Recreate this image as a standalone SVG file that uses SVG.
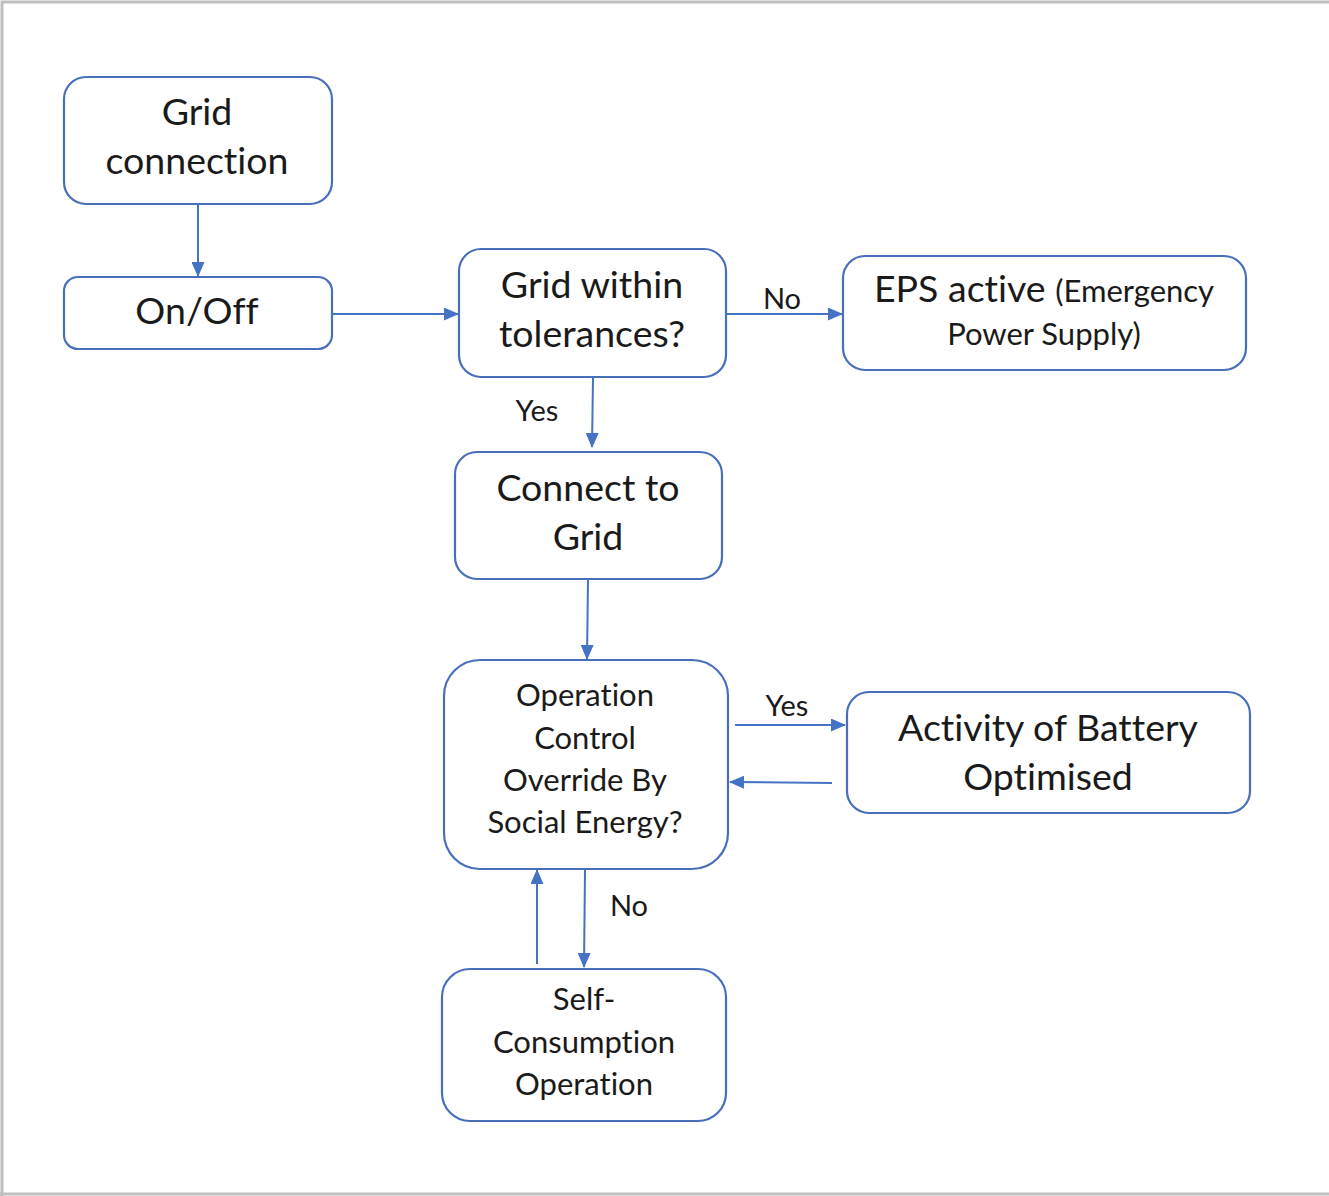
<svg xmlns="http://www.w3.org/2000/svg" width="1329" height="1196" viewBox="0 0 1329 1196">
<defs>
<marker id="ah" markerWidth="15" markerHeight="13" refX="14" refY="6.5" orient="auto" markerUnits="userSpaceOnUse">
<path d="M0,0 L15,6.5 L0,13 Z" fill="#4472C4"/>
</marker>
<style>
.box{fill:#fff;stroke:#4A6FBA;stroke-width:2.2}
.t{font-family:Lato,"Open Sans",sans-serif;fill:#1a1a1a;text-anchor:middle;font-variant-ligatures:none}
.b{font-size:37.5px}
.s{font-size:31px}
.l{font-size:29px}
.c{stroke:#4472C4;stroke-width:2;fill:none;marker-end:url(#ah)}
</style>
</defs>
<rect x="0" y="0" width="1329" height="1196" fill="#fff"/>
<path d="M2,1196 V2 H1329 M0,1194 H1329" stroke="#BFBFBF" stroke-width="3" fill="none"/>
<g id="grid-connection">
<rect class="box" x="64" y="77" width="268" height="127" rx="22"/>
<text class="t b" x="197" y="125">Grid</text>
<text class="t b" x="197" y="174">connection</text>
</g>
<g id="on-off">
<rect class="box" x="64" y="277" width="268" height="72" rx="14"/>
<text class="t b" x="197" y="324">On/Off</text>
</g>
<g id="grid-within">
<rect class="box" x="459" y="249" width="267" height="128" rx="22"/>
<text class="t b" x="592" y="298">Grid within</text>
<text class="t b" x="592" y="347">tolerances?</text>
</g>
<g id="eps">
<rect class="box" x="843" y="256" width="403" height="114" rx="22"/>
<text class="t" x="1044" y="302"><tspan class="b">EPS active </tspan><tspan class="s">(Emergency</tspan></text>
<text class="t s" x="1044" y="345">Power Supply)</text>
</g>
<g id="connect-grid">
<rect class="box" x="455" y="452" width="267" height="127" rx="22"/>
<text class="t b" x="588" y="501">Connect to</text>
<text class="t b" x="588" y="550">Grid</text>
</g>
<g id="operation-control">
<rect class="box" x="444" y="660" width="284" height="209" rx="36"/>
<text class="t s" x="585" y="706">Operation</text>
<text class="t s" x="585" y="749">Control</text>
<text class="t s" x="585" y="791">Override By</text>
<text class="t s" x="585" y="833">Social Energy?</text>
</g>
<g id="activity-battery">
<rect class="box" x="847" y="692" width="403" height="121" rx="22"/>
<text class="t b" x="1048" y="741">Activity of Battery</text>
<text class="t b" x="1048" y="790">Optimised</text>
</g>
<g id="self-consumption">
<rect class="box" x="442" y="969" width="284" height="152" rx="28"/>
<text class="t s" x="584" y="1010">Self-</text>
<text class="t s" x="584" y="1053">Consumption</text>
<text class="t s" x="584" y="1095">Operation</text>
</g>
<g id="connectors">
<line class="c" x1="198" y1="205" x2="198" y2="276"/>
<line class="c" x1="333" y1="314" x2="458" y2="314"/>
<line class="c" x1="727" y1="314" x2="842" y2="314"/>
<line class="c" x1="593" y1="378" x2="592" y2="447"/>
<line class="c" x1="588" y1="580" x2="587" y2="659"/>
<line class="c" x1="735" y1="725" x2="845" y2="725"/>
<line class="c" x1="832" y1="783" x2="730" y2="782"/>
<line class="c" x1="585" y1="870" x2="584" y2="967"/>
<line class="c" x1="537" y1="964" x2="537" y2="870"/>
<text class="t l" x="782" y="309">No</text>
<text class="t l" x="537" y="421">Yes</text>
<text class="t l" x="787" y="716">Yes</text>
<text class="t l" x="629" y="916">No</text>
</g>
</svg>
